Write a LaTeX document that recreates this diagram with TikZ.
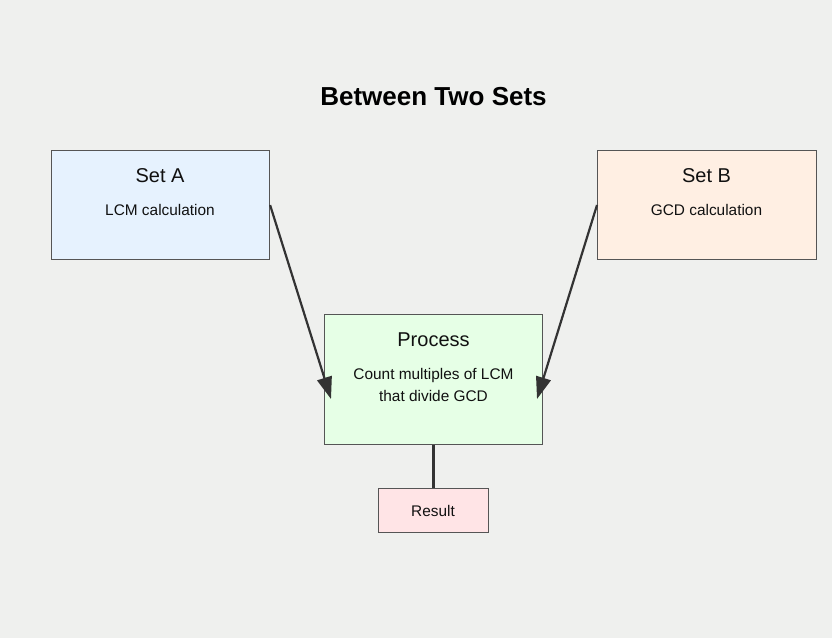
\documentclass[tikz,border=0pt]{standalone}
\usepackage{fontspec}
\setmainfont{Liberation Sans}
\usetikzlibrary{arrows.meta,calc}
\definecolor{bg}{HTML}{EFF0EE}
\definecolor{fa}{HTML}{E6F2FE}
\definecolor{fb}{HTML}{FFEFE3}
\definecolor{fp}{HTML}{E6FFE6}
\definecolor{fr}{HTML}{FFE4E6}
\definecolor{edge}{HTML}{555555}
\definecolor{ln}{HTML}{333333}
\definecolor{txt}{HTML}{111111}
\tikzset{
  box/.style={draw=edge, line width=1.1pt, inner sep=0pt, anchor=north west},
  ttl/.style={font=\fontsize{20}{24}\selectfont, text=txt, inner sep=0pt},
  sub/.style={font=\fontsize{15.4}{22}\selectfont, text=txt, inner sep=0pt, align=center},
  conn/.style={draw=ln, line width=2.2pt},
  arr/.style={conn, -{Triangle[length=22pt,width=15pt]}}
}
\begin{document}
\begin{tikzpicture}[x=1pt,y=-1pt]
\useasboundingbox[fill=bg] (0,0) rectangle (832,638);
\node[font=\fontsize{26}{30}\selectfont\bfseries, inner sep=0pt] (title) at (433.5,97) {Between Two Sets};
\node[box, fill=fa, minimum width=218pt, minimum height=109pt] (seta) at (51,150) {};
\node[box, fill=fb, minimum width=219pt, minimum height=109pt] (setb) at (597,150) {};
\node[box, fill=fp, minimum width=218pt, minimum height=130pt] (proc) at (324,314) {};
\node[box, fill=fr, minimum width=110pt, minimum height=44pt] (res) at (378,488) {};
\node[ttl] (seta-t) at (160,176) {Set A};
\node[sub] (seta-s) at (160,210) {LCM calculation};
\node[ttl] (setb-t) at (706.5,176) {Set B};
\node[sub] (setb-s) at (706.5,210) {GCD calculation};
\node[ttl] (proc-t) at (433.5,340) {Process};
\node[sub] (proc-s) at (433.5,385) {Count multiples of LCM\\that divide GCD};
\node[sub] (res-t) at (433,510.5) {Result};
\coordinate (pa) at (331,399);
\coordinate (pb) at (537,399);
\draw[arr] (seta.east) -- (pa);
\draw[arr] (setb.west) -- (pb);
\draw[conn] (proc.south) -- (res.north);
\end{tikzpicture}
\end{document}
